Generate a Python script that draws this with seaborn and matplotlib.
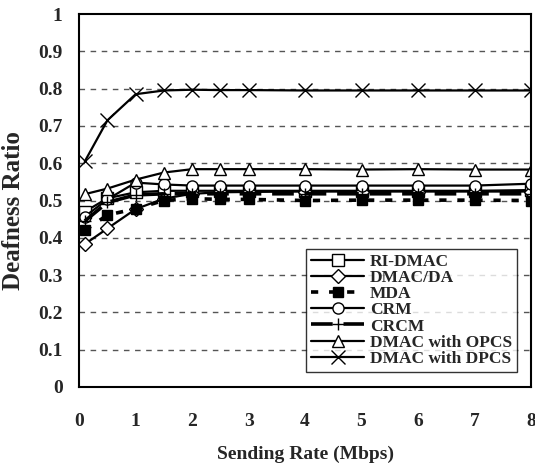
import numpy as np
import pandas as pd
import matplotlib
matplotlib.use("Agg")
import matplotlib.pyplot as plt
import seaborn as sns

rate = [0.1, 0.5, 1, 1.5, 2, 2.5, 3, 4, 5, 6, 7, 8]
ri_dmac = [0.470, 0.506, 0.522, 0.526, 0.526, 0.526, 0.526, 0.526, 0.526, 0.526, 0.526, 0.528]
dmac_da = [0.383, 0.425, 0.477, 0.505, 0.518, 0.522, 0.523, 0.524, 0.524, 0.524, 0.524, 0.524]
mda = [0.420, 0.461, 0.478, 0.500, 0.505, 0.503, 0.503, 0.500, 0.501, 0.501, 0.501, 0.500]
crm = [0.457, 0.503, 0.548, 0.543, 0.540, 0.540, 0.540, 0.540, 0.540, 0.540, 0.540, 0.545]
crcm = [0.445, 0.495, 0.515, 0.518, 0.518, 0.518, 0.518, 0.518, 0.518, 0.518, 0.518, 0.518]
opcs = [0.517, 0.532, 0.556, 0.575, 0.584, 0.584, 0.584, 0.584, 0.583, 0.584, 0.583, 0.583]
dpcs = [0.605, 0.715, 0.785, 0.795, 0.797, 0.796, 0.796, 0.795, 0.795, 0.795, 0.795, 0.795]

names = ["RI-DMAC", "DMAC/DA", "MDA", "CRM", "CRCM", "DMAC with OPCS", "DMAC with DPCS"]
series = [ri_dmac, dmac_da, mda, crm, crcm, opcs, dpcs]

rows = []
for n, vals in zip(names, series):
    for x, y in zip(rate, vals):
        rows.append({"rate": x, "ratio": y, "protocol": n})
df = pd.DataFrame(rows)

sns.set_style("white")
plt.rcParams["font.family"] = ["Liberation Serif", "DejaVu Serif"]
plt.rcParams["font.weight"] = "bold"

fig = plt.figure(figsize=(5.35, 4.7), dpi=100)
ax = fig.add_axes([0.148, 0.1766, 0.8445, 0.7936])

styles = {
    "RI-DMAC": dict(marker="s", linestyle="-", lw=1.6, mfc="white", ms=8),
    "DMAC/DA": dict(marker="D", linestyle="-", lw=1.6, mfc="white", ms=7),
    "MDA": dict(marker="s", linestyle=(0, (2, 3)), lw=2.6, mfc="black", ms=6.5),
    "CRM": dict(marker="o", linestyle="-", lw=1.6, mfc="white", ms=8),
    "CRCM": dict(marker="+", linestyle=(0, (6, 3)), lw=2.6, mfc="black", ms=8),
    "DMAC with OPCS": dict(marker="^", linestyle="-", lw=1.6, mfc="white", ms=9),
    "DMAC with DPCS": dict(marker="x", linestyle="-", lw=1.6, mfc="white", ms=10),
}

for n in names:
    st = styles[n]
    sns.lineplot(data=df[df.protocol == n], x="rate", y="ratio", ax=ax,
                 color="black", linestyle=st["linestyle"], linewidth=st["lw"],
                 marker=st["marker"], markersize=st["ms"], markerfacecolor=st["mfc"],
                 markeredgecolor="black", markeredgewidth=1.0, label=n)

ax.set_xlim(0, 8)
ax.set_ylim(0, 1)
ax.set_xticks(range(0, 9))
ax.set_yticks(np.arange(0, 1.01, 0.1))
ax.set_yticklabels(["0", "0.1", "0.2", "0.3", "0.4", "0.5", "0.6", "0.7", "0.8", "0.9", "1"])
ax.tick_params(axis="x", direction="in", length=6, width=1, pad=19, labelsize=14)
ax.tick_params(axis="y", length=0, pad=12, labelsize=14)
for lab in ax.get_xticklabels() + ax.get_yticklabels():
    lab.set_fontweight("bold")

for yv in np.arange(0.1, 0.95, 0.1):
    ax.axhline(yv, color="#555555", linestyle=(0, (4, 4)), linewidth=1.0, zorder=0)

for sp in ax.spines.values():
    sp.set_color("black")
    sp.set_linewidth(1.5)

ax.set_xlabel("Sending Rate (Mbps)", fontsize=14, fontweight="bold", labelpad=11)
ax.set_ylabel("Deafness Ratio", fontsize=18, fontweight="bold")
ax.yaxis.set_label_coords(-0.12, 0.472)

leg = ax.legend(loc="lower right", bbox_to_anchor=(0.969, 0.040), borderaxespad=0,
                frameon=True, fancybox=False, edgecolor="black", fontsize=12.5,
                handlelength=3.0, labelspacing=0.0, borderpad=0.3, handletextpad=0.35)
leg.get_frame().set_linewidth(1.0)
for t in leg.get_texts():
    t.set_fontweight("bold")

fig.savefig("out.png", dpi=100)
